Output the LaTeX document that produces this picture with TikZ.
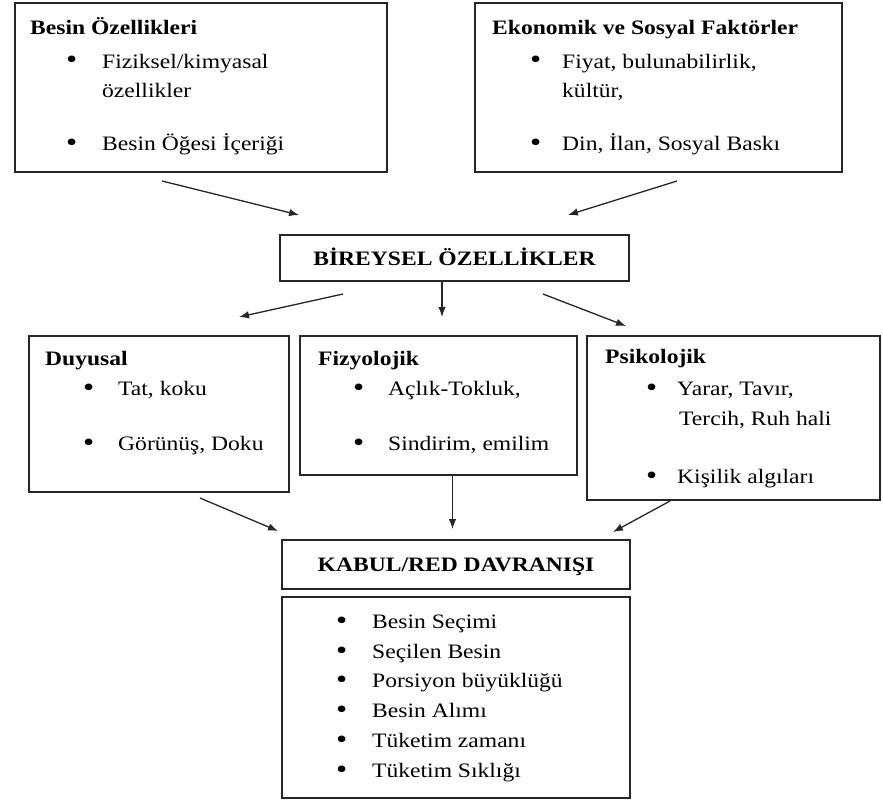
\documentclass[tikz,border=0pt]{standalone}
\usepackage{fontspec}
\setmainfont{Liberation Serif}[FakeStretch=1.15]
\usetikzlibrary{arrows.meta,positioning,calc}

\newcommand{\yazi}{\fontsize{20.5pt}{29pt}\selectfont}
\newcommand{\madde}[1]{\makebox[#1][l]{\raisebox{-1pt}{\scalebox{1.35}{\textbullet}}}}

\tikzset{
	kutu/.style={rectangle, draw=black!85, line width=2pt, inner sep=0pt},
	baslik/.style={anchor=base west, inner sep=0pt, font=\yazi\bfseries},
	satir/.style={anchor=base west, inner sep=0pt, font=\yazi},
	ortabaslik/.style={kutu, font=\yazi\bfseries, text height=14pt, text depth=0pt},
	ok/.style={-{Latex[length=10pt,width=7.5pt]}, line width=1.3pt, draw=black!85}
}

\begin{document}
\begin{tikzpicture}[x=1pt, y=-1pt]
	\useasboundingbox (0,0) rectangle (883,800);
	
	\node[kutu, minimum width=372pt, minimum height=169pt] (besin) at (201,87.5) {};
	\node[kutu, minimum width=367pt, minimum height=169pt] (ekonomik) at (658.5,87.5) {};
	\node[ortabaslik, minimum width=349pt, minimum height=46pt] (bireysel) at (454.5,258) {BİREYSEL ÖZELLİKLER};
	\node[kutu, minimum width=260pt, minimum height=156pt] (duyusal) at (159,414) {};
	\node[kutu, minimum width=277pt, minimum height=139pt] (fizyolojik) at (438.5,405.5) {};
	\node[kutu, minimum width=293pt, minimum height=164pt] (psikolojik) at (733.5,418) {};
	\node[ortabaslik, minimum width=348pt, minimum height=49pt] (kabul) at (456,564.5) {KABUL/RED DAVRANIŞI};
	\node[kutu, minimum width=348pt, minimum height=201pt] (liste) at (456,697.5) {};
	
	\node[baslik] (besin-b) at (30,35) {Besin Özellikleri};
	\node[satir] (besin-1) at (66,68) {\madde{36pt}Fiziksel/kimyasal};
	\node[satir] (besin-1b) at (102,97) {özellikler};
	\node[satir] (besin-2) at (66,150) {\madde{36pt}Besin Öğesi İçeriği};
	
	\node[baslik] (ekonomik-b) at (492,35) {Ekonomik ve Sosyal Faktörler};
	\node[satir] (ekonomik-1) at (530,68) {\madde{32pt}Fiyat, bulunabilirlik,};
	\node[satir] (ekonomik-1b) at (562,97) {kültür,};
	\node[satir] (ekonomik-2) at (530,150) {\madde{32pt}Din, İlan, Sosyal Baskı};
	
	\node[baslik] (duyusal-b) at (45,365) {Duyusal};
	\node[satir] (duyusal-1) at (83,395) {\madde{35pt}Tat, koku};
	\node[satir] (duyusal-2) at (83,450) {\madde{35pt}Görünüş, Doku};
	
	\node[baslik] (fizyolojik-b) at (318,365) {Fizyolojik};
	\node[satir] (fizyolojik-1) at (353,395) {\madde{35pt}Açlık-Tokluk,};
	\node[satir] (fizyolojik-2) at (353,450) {\madde{35pt}Sindirim, emilim};
	
	\node[baslik] (psikolojik-b) at (605,363) {Psikolojik};
	\node[satir] (psikolojik-1) at (646,395) {\madde{31pt}Yarar, Tavır,};
	\node[satir] (psikolojik-1b) at (679,425) {Tercih, Ruh hali};
	\node[satir] (psikolojik-2) at (646,483) {\madde{31pt}Kişilik algıları};
	
	\node[satir] (liste-1) at (336,628) {\madde{36pt}Besin Seçimi};
	\node[satir] (liste-2) at (336,658) {\madde{36pt}Seçilen Besin};
	\node[satir] (liste-3) at (336,687) {\madde{36pt}Porsiyon büyüklüğü};
	\node[satir] (liste-4) at (336,717) {\madde{36pt}Besin Alımı};
	\node[satir] (liste-5) at (336,747) {\madde{36pt}Tüketim zamanı};
	\node[satir] (liste-6) at (336,777) {\madde{36pt}Tüketim Sıklığı};
	
	\draw[ok] ([shift={(-39,8)}]besin.south) -- ([shift={(-155.5,-19)}]bireysel.north);
	\draw[ok] ([shift={(18.5,8)}]ekonomik.south) -- ([shift={(113.5,-19)}]bireysel.north);
	\draw[ok] ([shift={(-111.5,12)}]bireysel.south) -- ([shift={(80,-18)}]duyusal.north);
	\draw[ok] ([shift={(-12.5,0)}]bireysel.south) -- ([shift={(3.5,-18)}]fizyolojik.north);
	\draw[ok] ([shift={(88.5,12)}]bireysel.south) -- ([shift={(-107.5,-9)}]psikolojik.north);
	\draw[ok] ([shift={(41,5)}]duyusal.south) -- ([shift={(-178,-8)}]kabul.north);
	\draw[ok] ([shift={(14,0)}]fizyolojik.south) -- ([shift={(-3.5,-10)}]kabul.north);
	\draw[ok] ([shift={(-63.5,0)}]psikolojik.south) -- ([shift={(157,-7)}]kabul.north);
\end{tikzpicture}
\end{document}
